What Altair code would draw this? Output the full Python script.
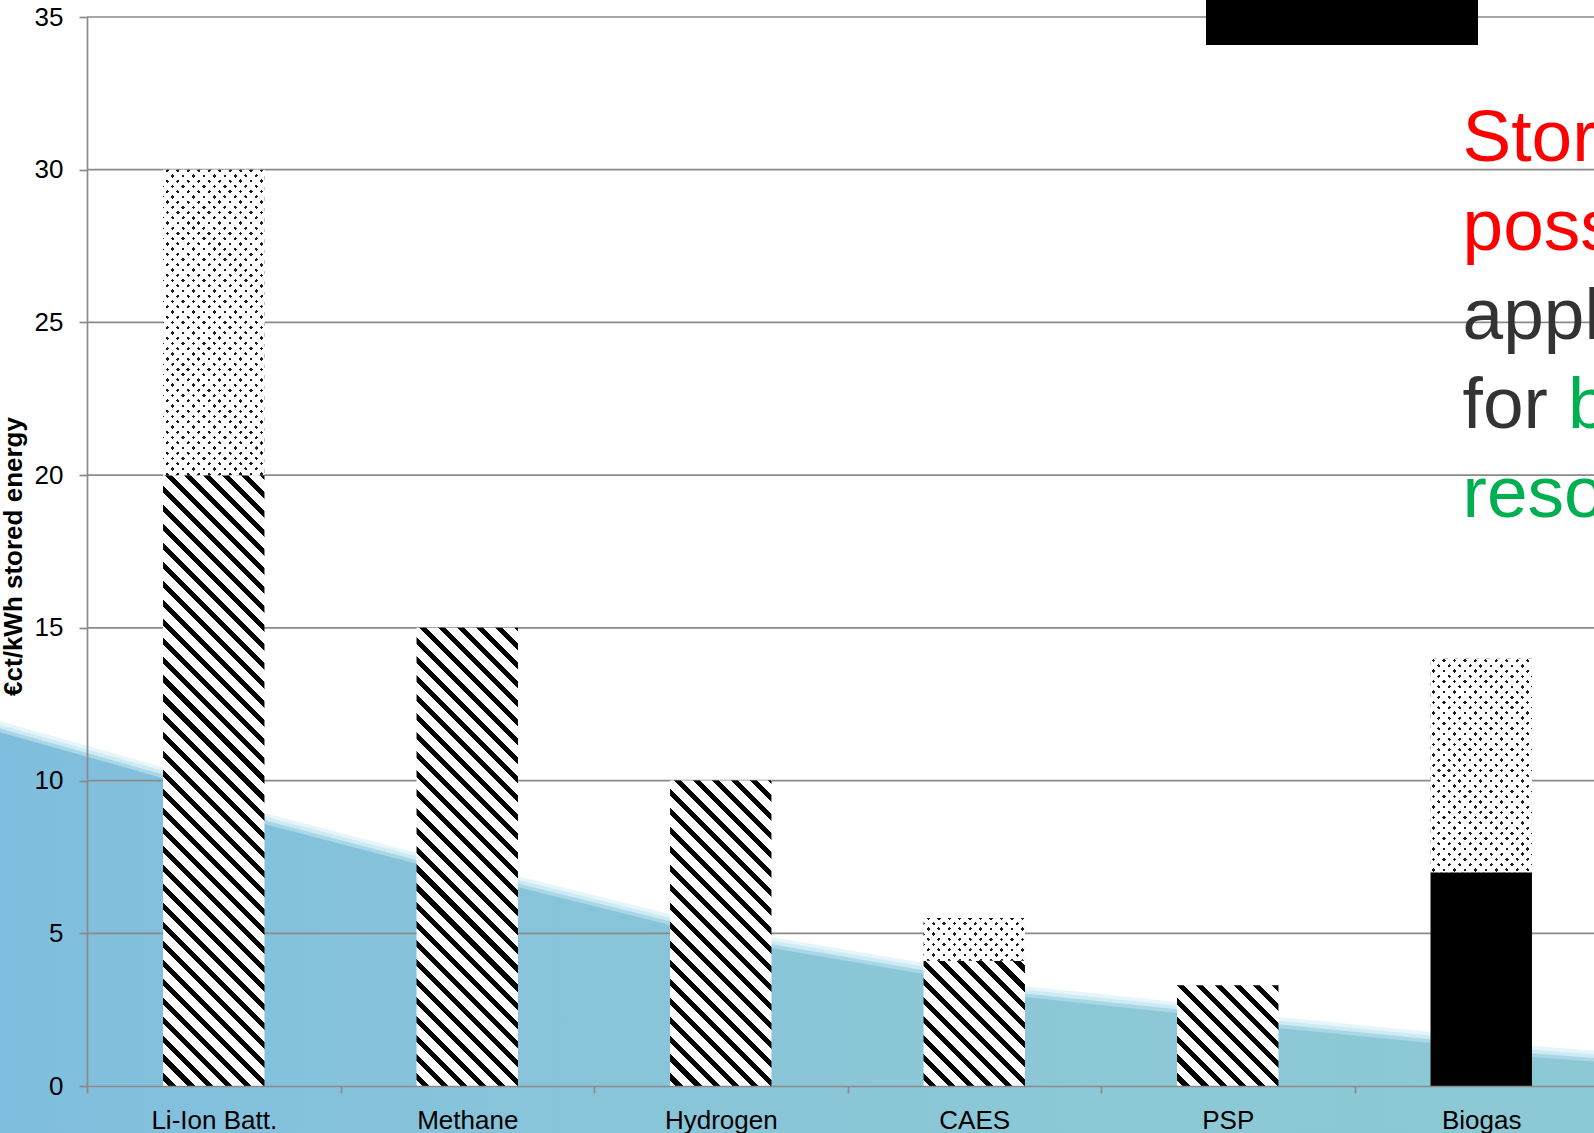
import math

import altair as alt
import pandas as pd

# ---------------------------------------------------------------- data
categories = ["Li-Ion Batt.", "Methane", "Hydrogen", "CAES", "PSP", "Biogas"]
hatched = [20, 15, 10, 4.1, 3.3, 0]      # hatched part of each column
solid = [0, 0, 0, 0, 0, 7]               # solid black part
dotted = [10, 0, 0, 1.4, 0, 7]           # dotted upper range on top

y_ticks = [0, 5, 10, 15, 20, 25, 30, 35]
y_title = "€ct/kWh stored energy"

# descending blue backdrop: position in category steps, top edge in ct/kWh
backdrop_u = [-0.36, 0.3, 0.7, 1.3, 1.7, 2.3, 2.7, 3.3, 3.7, 4.3, 4.7, 5.3, 5.7, 5.96]
backdrop_top = [11.62, 10.08, 8.58, 7.28, 6.51, 5.27, 4.52, 3.67, 2.91, 2.39, 1.90, 1.41, 0.95, 0.79]

note_lines = ["Storage", "possible", "applicable", "for", "resources"]
note_colors = ["#ff0000", "#ff0000", "#333333", "#333333", "#00b050"]
note_tail = "biomass"

# ---------------------------------------------------------------- layout
FONT = "Liberation Sans"
PLOT_W = 1507
PLOT_H = 1069
STEP = 253.5
X_RANGE = [0, STEP * len(categories)]
Y_MAX = 35
PPU = PLOT_H / Y_MAX
BAR_BAND = 0.4
BAR_W = BAR_BAND * STEP
GRID = "#8a8a8a"

# ---------------------------------------------------------------- tables
rows = []
for c, h, s, d in zip(categories, hatched, solid, dotted):
    base = 0.0
    if h > 0:
        rows.append(dict(cat=c, kind="hatch", lo=base, hi=base + h))
        base += h
    if s > 0:
        rows.append(dict(cat=c, kind="solid", lo=base, hi=base + s))
        base += s
    if d > 0:
        rows.append(dict(cat=c, kind="dots", lo=base, hi=base + d))
        base += d
segments = pd.DataFrame(rows)
segments["idx"] = range(len(segments))

backdrop = pd.DataFrame({"u": backdrop_u, "top": backdrop_top})
backdrop["bottom"] = -1.8

grid_df = pd.DataFrame({"v": [t for t in y_ticks if t > 0]})


# ---------------------------------------------------------------- textures
def GS(color, offset):
    return alt.GradientStop(color=color, offset=round(min(max(offset, 0.0), 1.0), 5))


def stripe_stops(length, period, width, ink, paper):
    stops = [GS(paper, 0.0)]
    pos = (period - width) / 2.0
    while pos < length:
        a = pos / length
        b = min(pos + width, length) / length
        stops += [GS(paper, a), GS(ink, a), GS(ink, b), GS(paper, b)]
        pos += period
    stops.append(GS(paper, 1.0))
    return stops


def diagonal_fill(h_px, rising, period, width, ink, paper):
    """Diagonal stripes at 45 degrees inside a bar of BAR_W x h_px pixels."""
    W, H = BAR_W, max(h_px, 1.0)
    s = (W + H) / (W * W + H * H)
    length = (W + H) / math.sqrt(2)
    if rising:   # stripes running "/"
        x1, y1, x2, y2 = 0.0, 0.0, W * s, H * s
    else:        # stripes running "\"
        x1, y1, x2, y2 = 0.0, 1.0, W * s, 1.0 - H * s
    return alt.LinearGradient(
        gradient="linear",
        stops=stripe_stops(length, period, width, ink, paper),
        x1=round(x1, 5), y1=round(y1, 5), x2=round(x2, 5), y2=round(y2, 5),
    )


# ---------------------------------------------------------------- encodings
y_scale = alt.Scale(domain=[0, Y_MAX], nice=False, zero=False)
y_axis = alt.Axis(
    values=y_ticks, grid=False,
    domainColor=GRID, domainWidth=1.7, tickColor=GRID, tickWidth=1.7, tickSize=8,
    labelFont=FONT, labelFontSize=26, labelColor="#000000", labelPadding=16,
    title=y_title, titleFont=FONT, titleFontSize=26, titleFontWeight="bold",
    titleColor="#000000", titleAngle=270, titleX=-66, titleY=539,
    titleBaseline="alphabetic", titleAlign="center", zindex=1,
)
x_scale = alt.Scale(domain=categories, range=X_RANGE, paddingInner=0, paddingOuter=0)
x_axis = alt.Axis(
    title=None, grid=False, tickBand="extent",
    domainColor=GRID, domainWidth=1.7, tickColor=GRID, tickWidth=1.7, tickSize=7,
    labelFont=FONT, labelFontSize=26, labelColor="#000000", labelPadding=14,
    labelAngle=0, labelOverlap=False, zindex=1,
)


def bar_x():
    return alt.X("cat:N", sort=categories, scale=x_scale, axis=x_axis, title=None)


def bar_y():
    return alt.Y("lo:Q", scale=y_scale, axis=y_axis, title=y_title)


# ---------------------------------------------------------------- backdrop
u_scale = alt.Scale(domain=[0, len(categories)], range=X_RANGE, nice=False, zero=False)


def backdrop_layer(shift, fill):
    return (
        alt.Chart(backdrop)
        .transform_calculate(edge=f"datum.top + {shift}")
        .mark_area(clip=False, interpolate="linear", fill=fill, stroke=None)
        .encode(
            x=alt.X("u:Q", scale=u_scale, axis=None),
            y=alt.Y("edge:Q", scale=y_scale, axis=y_axis, title=y_title),
            y2="bottom:Q",
        )
    )


blue = alt.LinearGradient(
    gradient="linear",
    stops=[GS("#80bedf", 0.0), GS("#88c4d9", 0.35), GS("#8cc8d5", 0.7), GS("#8dc9d4", 1.0)],
    x1=0, y1=0, x2=1, y2=0,
)
background = alt.layer(
    backdrop_layer(0.36, "#e6f5f9"),
    backdrop_layer(0.24, "#cdebf3"),
    backdrop_layer(0.12, "#a9d7e6"),
    backdrop_layer(0.0, blue),
)

gridlines = (
    alt.Chart(grid_df)
    .mark_rule(color=GRID, strokeWidth=1.7)
    .encode(y=alt.Y("v:Q", scale=y_scale, axis=y_axis, title=y_title))
)

# ---------------------------------------------------------------- columns
bar_layers = []
for _, r in segments.iterrows():
    h_px = (r["hi"] - r["lo"]) * PPU
    base = alt.Chart(segments).transform_filter(f"datum.idx == {int(r['idx'])}")
    enc = dict(x=bar_x(), y=bar_y(), y2="hi:Q")
    if r["kind"] == "hatch":
        fill = diagonal_fill(h_px, False, 13.4, 5.0, "#000000", "#ffffff")
        bar_layers.append(base.mark_bar(width={"band": BAR_BAND}, fill=fill, stroke=None).encode(**enc))
    elif r["kind"] == "solid":
        bar_layers.append(base.mark_bar(width={"band": BAR_BAND}, fill="#000000", stroke=None).encode(**enc))
    else:
        under = diagonal_fill(h_px, True, 7.4, 2.5, "#1c1c1c", "#ffffff")
        over = diagonal_fill(h_px, False, 7.4, 2.5, "rgba(255,255,255,0)", "#ffffff")
        bar_layers.append(base.mark_bar(width={"band": BAR_BAND}, fill=under, stroke=None).encode(**enc))
        bar_layers.append(base.mark_bar(width={"band": BAR_BAND}, fill=over, stroke=None).encode(**enc))
columns = alt.layer(*bar_layers)

# ---------------------------------------------------------------- side note
note_layers = []
NOTE_X = 1375.6
NOTE_Y0 = 143.6
NOTE_LH = 89
for i, (txt, col) in enumerate(zip(note_lines, note_colors)):
    note_layers.append(
        alt.Chart(pd.DataFrame({"t": [txt]}))
        .mark_text(font=FONT, fontSize=73, align="left", baseline="alphabetic", color=col, clip=False)
        .encode(x=alt.value(NOTE_X), y=alt.value(NOTE_Y0 + i * NOTE_LH), text="t:N")
    )
note_layers.append(
    alt.Chart(pd.DataFrame({"t": [note_tail]}))
    .mark_text(font=FONT, fontSize=73, align="left", baseline="alphabetic", color="#00b050", clip=False)
    .encode(x=alt.value(NOTE_X + 105.5), y=alt.value(NOTE_Y0 + 3 * NOTE_LH), text="t:N")
)

cover = (
    alt.Chart(pd.DataFrame({"k": [0]}))
    .mark_rect(color="#000000", clip=False)
    .encode(x=alt.value(1119), x2=alt.value(1391), y=alt.value(-17), y2=alt.value(28))
)

chart = (
    alt.layer(background, gridlines, columns, *note_layers, cover)
    .resolve_scale(x="independent")
    .properties(
        width=PLOT_W,
        height=PLOT_H,
        autosize=alt.AutoSizeParams(type="none"),
        padding={"left": 87, "top": 17, "right": 0, "bottom": 47},
        background="#ffffff",
    )
    .configure_view(stroke=None)
)

chart.save("out.html", embed_options={"renderer": "svg", "actions": False})
